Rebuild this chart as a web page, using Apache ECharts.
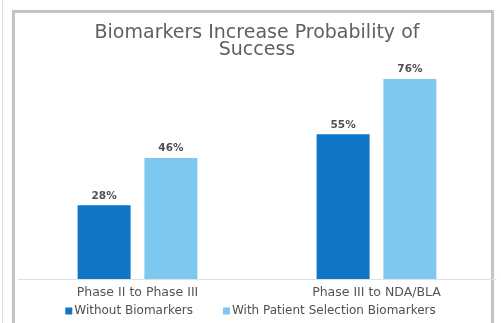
<!DOCTYPE html>
<html><head><meta charset="utf-8">
<script src="https://cdn.jsdelivr.net/npm/echarts@6/dist/echarts.min.js"></script>
<style>html,body{margin:0;padding:0;background:#fff}#c{width:501px;height:323px}</style>
</head><body><div id="c"></div>
<script>
var categories = ['Phase II to Phase III', 'Phase III to NDA/BLA'];
var withoutBiomarkers = [28, 55];
var withBiomarkers = [46, 76];
var seriesNames = ['Without Biomarkers', 'With Patient Selection Biomarkers'];
var titleText = 'Biomarkers Increase Probability of\nSuccess';

var FONT = 'DejaVu Sans';
var chart = echarts.init(document.getElementById('c'), null, {renderer: 'canvas'});
var labelStyle = {show: true, position: 'top', formatter: '{c}%', color: '#505050', fontSize: 10.5, fontWeight: 'bold', fontFamily: FONT, distance: 4};
chart.setOption({
  animation: false,
  graphic: [
    {type: 'rect', shape: {x: 2, y: -5, width: 0.5, height: 340}, style: {fill: '#bdbdbd'}},
    {type: 'rect', shape: {x: 13.5, y: 11.5, width: 479, height: 330}, style: {fill: 'none', stroke: '#c4c4c4', lineWidth: 3}}
  ],
  title: {text: titleText, left: 252, textAlign: 'center', top: 20,
    textStyle: {fontFamily: FONT, fontSize: 19, fontWeight: 'normal', color: '#606060', lineHeight: 17}},
  legend: {data: seriesNames, bottom: 1, left: 'center', itemWidth: 7, itemHeight: 7, itemGap: 30, icon: 'rect',
    textStyle: {fontFamily: FONT, fontSize: 12, color: '#505050', padding: [0,0,0,-3]}},
  grid: {left: 18, right: 5, top: 68.5, bottom: 44, containLabel: false},
  xAxis: {type: 'category', data: categories,
    axisLine: {lineStyle: {color: '#e0e0e0', width: 1}}, axisTick: {show: false},
    axisLabel: {fontFamily: FONT, fontSize: 12.5, color: '#555', margin: 7}},
  yAxis: {type: 'value', min: 0, max: 80, show: false, splitLine: {show: false}},
  series: [
    {name: seriesNames[0], type: 'bar', data: withoutBiomarkers, barWidth: 53, barGap: '26%', itemStyle: {color: '#0F76C7'}, label: labelStyle},
    {name: seriesNames[1], type: 'bar', data: withBiomarkers, barWidth: 53, itemStyle: {color: '#7CC8EE'}, label: labelStyle}
  ]
});
</script></body></html>
